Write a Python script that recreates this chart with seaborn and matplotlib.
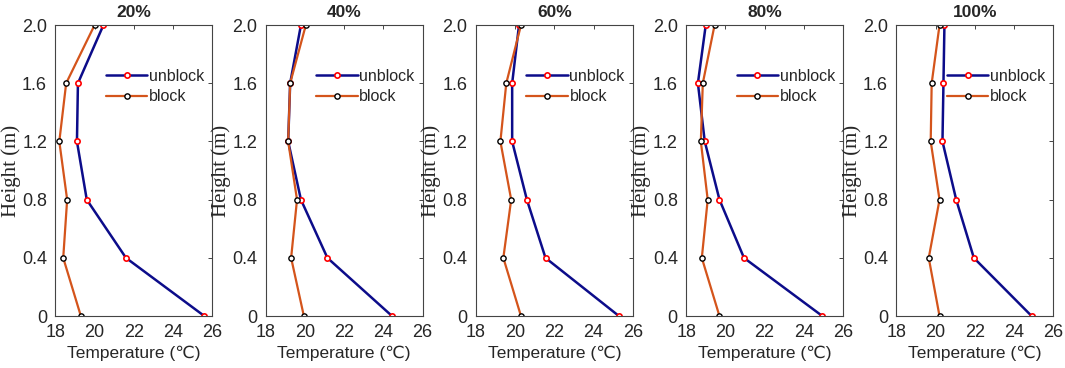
''' Vertical temperature profiles, unblock vs block, five opening ratios '''
import numpy as np
import pandas as pd
import seaborn as sns
import matplotlib.pyplot as plt

# Data
heights = [0, 0.4, 0.8, 1.2, 1.6, 2.0]
ratios = ["20%", "40%", "60%", "80%", "100%"]

unblock_20 = [25.6, 21.6, 19.6, 19.1, 19.15, 20.45]
block_20 = [19.3, 18.4, 18.6, 18.2, 18.55, 20.0]
unblock_40 = [24.45, 21.15, 19.8, 19.15, 19.25, 19.8]
block_40 = [19.95, 19.3, 19.6, 19.15, 19.25, 20.05]
unblock_60 = [25.3, 21.55, 20.6, 19.85, 19.85, 20.2]
block_60 = [20.3, 19.4, 19.8, 19.25, 19.55, 20.3]
unblock_80 = [24.95, 20.95, 19.7, 18.95, 18.6, 19.0]
block_80 = [19.7, 18.8, 19.1, 18.75, 18.85, 19.45]
unblock_100 = [24.9, 21.95, 21.05, 20.35, 20.4, 20.45]
block_100 = [20.2, 19.65, 20.2, 19.75, 19.8, 20.2]

unblock = [unblock_20, unblock_40, unblock_60, unblock_80, unblock_100]
block = [block_20, block_40, block_60, block_80, block_100]

### Style ###
sns.set_style("white")
plt.rcParams['font.family'] = ['Liberation Sans', 'DejaVu Sans']
plt.rcParams['xtick.direction'] = 'in'
plt.rcParams['ytick.direction'] = 'in'

blue = '#0c0c8a'
orange = '#d4541b'

fig, axes = plt.subplots(1, 5, figsize=(10.65, 3.68), dpi=100)
fig.subplots_adjust(left=0.052, right=0.989, top=0.932, bottom=0.141, wspace=0.34)

for i, ax in enumerate(axes):
    df = pd.DataFrame({'height': heights, 'unblock': unblock[i], 'block': block[i]})
    sns.lineplot(data=df, x='unblock', y='height', sort=False, estimator=None, orient='y',
                 ax=ax, color=blue, lw=1.8, marker='o', markersize=3.8,
                 markerfacecolor='white', markeredgecolor='red', markeredgewidth=1.2,
                 label='unblock')
    sns.lineplot(data=df, x='block', y='height', sort=False, estimator=None, orient='y',
                 ax=ax, color=orange, lw=1.6, marker='o', markersize=3.8,
                 markerfacecolor='white', markeredgecolor='black', markeredgewidth=1.0,
                 label='block')
    ax.set_xlim(18, 26)
    ax.set_ylim(0, 2.0)
    ax.set_xticks([18, 20, 22, 24, 26])
    ax.set_yticks([0, 0.4, 0.8, 1.2, 1.6, 2.0])
    ax.set_yticklabels(['0', '0.4', '0.8', '1.2', '1.6', '2.0'])
    ax.tick_params(labelsize=13, top=True, right=True, length=3, width=0.6, pad=6)
    ax.set_xlabel('Temperature (℃)', fontsize=12.5, labelpad=3)
    ax.set_ylabel('Height (m)', fontsize=15, family='Liberation Serif', labelpad=1)
    ax.set_title(ratios[i], fontsize=12.5, fontweight='bold', pad=6)
    for s in ax.spines.values():
        s.set_color('#444444')
        s.set_linewidth(0.8)
    ax.legend(loc='upper right', bbox_to_anchor=(1.04, 0.9), frameon=False,
              fontsize=11.5, handlelength=2.6, handletextpad=0.1, labelspacing=0.35)

plt.savefig('out.png', dpi=100)
